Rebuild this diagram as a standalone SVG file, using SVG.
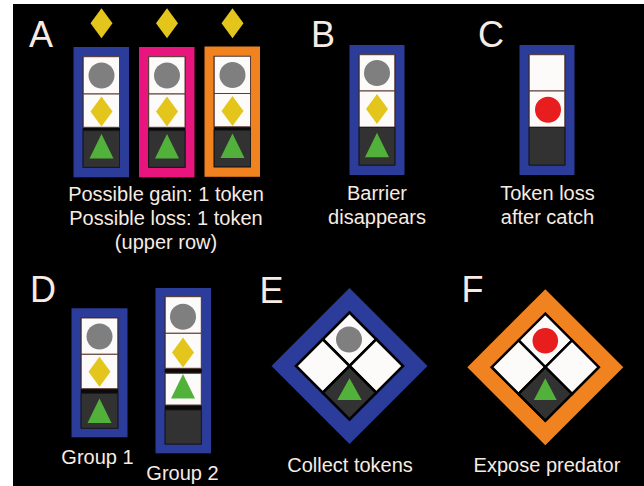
<svg xmlns="http://www.w3.org/2000/svg" xmlns:xlink="http://www.w3.org/1999/xlink" width="644" height="486" viewBox="0 0 644 486">
<style>
.lbl{font-family:"Liberation Sans",Arial,sans-serif;font-size:36px;fill:#f8ebe3}
.cap{font-family:"Liberation Sans",Arial,sans-serif;font-size:20px;fill:#f8ebe3;text-anchor:middle}
.blue{fill:#2b3c9b}
.pink{fill:#e8157f}
.orange{fill:#f0821f}
.cell{fill:#fdfbfa;stroke:#5a3c34;stroke-width:1}
.dark{fill:#323232;stroke:#1a1a1a;stroke-width:1}
.inner{fill:#0a0a0a}
.gray{fill:#7f7f7f}
.red{fill:#e81e1e}
.yel{fill:#e3c51c}
.grn{fill:#52b13a}
.dcell{stroke:#000;stroke-width:2.5}
</style>
<defs>
<path id="dia" d="M0,-15 L11,0 L0,15 L-11,0 Z" class="yel"/>
<path id="tri" d="M0,-12.2 L12,12.2 L-12,12.2 Z" class="grn"/>
</defs>
<rect x="0" y="0" width="644" height="486" fill="#ffffff"/>
<rect x="13" y="4" width="631" height="482" fill="#000000"/>

<g id="labels">
<text class="lbl" x="29" y="46.7">A</text>
<text class="lbl" x="311" y="46.7">B</text>
<text class="lbl" x="478" y="46.7">C</text>
<text class="lbl" x="30" y="301.7">D</text>
<text class="lbl" x="259.5" y="302.5">E</text>
<text class="lbl" x="461.5" y="301.7">F</text>
</g>

<g id="A-tokens">
<use xlink:href="#dia" x="101.5" y="23.3"/>
<use xlink:href="#dia" x="167" y="23.3"/>
<use xlink:href="#dia" x="232.5" y="23.3"/>
</g>

<g id="A-blue" transform="translate(73.5,47)">
<rect class="blue" width="55.5" height="130.3"/>
<rect class="inner" x="9.2" y="9.5" width="37.3" height="111.3"/>
<rect class="cell" x="9.7" y="9.7" width="36.3" height="37.3"/>
<rect class="cell" x="9.7" y="47" width="36.3" height="33.3"/>
<rect class="dark" x="9.7" y="83.7" width="36.3" height="36.6"/>
<circle class="gray" cx="28" cy="28.5" r="13"/>
<use xlink:href="#dia" x="28" y="64.5"/>
<use xlink:href="#tri" x="28" y="99.2"/>
</g>

<g id="A-pink" transform="translate(139,47)">
<rect class="pink" width="55.5" height="130.3"/>
<rect class="inner" x="9.2" y="9.5" width="37.3" height="111.3"/>
<rect class="cell" x="9.7" y="9.7" width="36.3" height="37.3"/>
<rect class="cell" x="9.7" y="47" width="36.3" height="33.3"/>
<rect class="dark" x="9.7" y="83.7" width="36.3" height="36.6"/>
<circle class="gray" cx="28" cy="28.5" r="13"/>
<use xlink:href="#dia" x="28" y="64.5"/>
<use xlink:href="#tri" x="28" y="99.2"/>
</g>

<g id="A-orange" transform="translate(204.5,46.5)">
<rect class="orange" width="55.5" height="130.3"/>
<rect class="inner" x="9.2" y="9.5" width="37.3" height="111.3"/>
<rect class="cell" x="9.7" y="9.7" width="36.3" height="37.3"/>
<rect class="cell" x="9.7" y="47" width="36.3" height="33.3"/>
<rect class="dark" x="9.7" y="83.7" width="36.3" height="36.6"/>
<circle class="gray" cx="28" cy="28.5" r="13"/>
<use xlink:href="#dia" x="28" y="64.5"/>
<use xlink:href="#tri" x="28" y="99.2"/>
</g>

<g id="A-caption">
<text class="cap" x="166" y="201">Possible gain: 1 token</text>
<text class="cap" x="166" y="225">Possible loss: 1 token</text>
<text class="cap" x="166" y="249">(upper row)</text>
</g>

<g id="B" transform="translate(349.5,45)">
<rect class="blue" width="55" height="130"/>
<rect class="inner" x="9.2" y="9.5" width="36.6" height="111"/>
<rect class="cell" x="9.7" y="9.7" width="35.6" height="36.3"/>
<rect class="cell" x="9.7" y="46" width="35.6" height="36.3"/>
<rect class="dark" x="9.7" y="82.3" width="35.6" height="37.7"/>
<circle class="gray" cx="27.5" cy="28" r="13"/>
<use xlink:href="#dia" x="27.5" y="64"/>
<use xlink:href="#tri" x="27.5" y="100"/>
</g>
<g id="B-caption">
<text class="cap" x="377" y="200">Barrier</text>
<text class="cap" x="377" y="224">disappears</text>
</g>

<g id="C" transform="translate(519.5,45)">
<rect class="blue" width="55" height="130"/>
<rect class="inner" x="9.2" y="9.5" width="36.6" height="111"/>
<rect class="cell" x="9.7" y="9.7" width="35.6" height="36.3"/>
<rect class="cell" x="9.7" y="46" width="35.6" height="36.3"/>
<rect class="dark" x="9.7" y="82.3" width="35.6" height="37.7"/>
<circle class="red" cx="28.5" cy="64.7" r="13"/>
</g>
<g id="C-caption">
<text class="cap" x="547.5" y="200">Token loss</text>
<text class="cap" x="547.5" y="224">after catch</text>
</g>

<g id="D-group1" transform="translate(71.5,308.3)">
<rect class="blue" width="56" height="129"/>
<rect class="inner" x="9.2" y="9.2" width="37.6" height="111"/>
<rect class="cell" x="9.7" y="9.7" width="36.6" height="36.3"/>
<rect class="cell" x="9.7" y="46" width="36.6" height="34.4"/>
<rect class="dark" x="9.7" y="85" width="36.6" height="35"/>
<circle class="gray" cx="28" cy="28.2" r="13"/>
<use xlink:href="#dia" x="28" y="63.5"/>
<use xlink:href="#tri" x="28" y="102.5"/>
</g>
<text class="cap" x="97.5" y="463.5">Group 1</text>

<g id="D-group2" transform="translate(155.5,288)">
<rect class="blue" width="55.5" height="165.3"/>
<rect class="inner" x="9.2" y="8.2" width="37.1" height="148.3"/>
<rect class="cell" x="9.7" y="8.7" width="36.1" height="36.6"/>
<rect class="cell" x="9.7" y="45.3" width="36.1" height="35"/>
<rect class="cell" x="9.7" y="85.3" width="36.1" height="31.7"/>
<rect class="dark" x="9.7" y="122" width="36.1" height="34"/>
<circle class="gray" cx="27.5" cy="28.7" r="13"/>
<use xlink:href="#dia" x="27.5" y="64.5"/>
<use xlink:href="#tri" x="27.5" y="98.3"/>
</g>
<text class="cap" x="182.5" y="480">Group 2</text>

<g id="E" transform="translate(349.5,366)">
<path class="blue" d="M0,-78 L78,0 L0,78 L-78,0 Z"/>
<path fill="#000" d="M0,-55 L55,0 L0,55 L-55,0 Z"/>
<path class="cell dcell" d="M0,-53.5 L26.75,-26.75 L0,0 L-26.75,-26.75 Z"/>
<path class="cell dcell" d="M-26.75,-26.75 L0,0 L-26.75,26.75 L-53.5,0 Z"/>
<path class="cell dcell" d="M26.75,-26.75 L53.5,0 L26.75,26.75 L0,0 Z"/>
<path class="dark dcell" d="M0,0 L26.75,26.75 L0,53.5 L-26.75,26.75 Z"/>
<circle class="gray" cx="-0.5" cy="-26.5" r="13"/>
<path class="grn" d="M0,12.3 L12.2,34 L-12.2,34 Z"/>
</g>
<text class="cap" x="350" y="472">Collect tokens</text>

<g id="F" transform="translate(545.3,367.2)">
<path class="orange" d="M0,-78 L78,0 L0,78 L-78,0 Z"/>
<path fill="#000" d="M0,-55 L55,0 L0,55 L-55,0 Z"/>
<path class="cell dcell" d="M0,-53.5 L26.75,-26.75 L0,0 L-26.75,-26.75 Z"/>
<path class="cell dcell" d="M-26.75,-26.75 L0,0 L-26.75,26.75 L-53.5,0 Z"/>
<path class="cell dcell" d="M26.75,-26.75 L53.5,0 L26.75,26.75 L0,0 Z"/>
<path class="dark dcell" d="M0,0 L26.75,26.75 L0,53.5 L-26.75,26.75 Z"/>
<circle class="red" cx="0" cy="-26.4" r="12.8"/>
<path class="grn" d="M0,11.1 L11.4,32.8 L-11.4,32.8 Z"/>
</g>
<text class="cap" x="547" y="472">Expose predator</text>

<g id="connectors"></g>
</svg>
